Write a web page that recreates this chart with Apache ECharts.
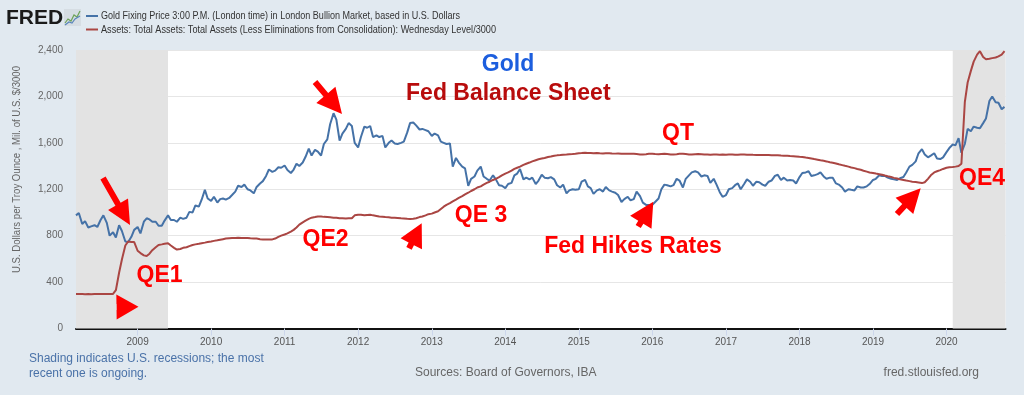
<!DOCTYPE html>
<html><head><meta charset="utf-8">
<script src="https://cdn.jsdelivr.net/npm/echarts@6/dist/echarts.min.js"></script>
<style>html,body{margin:0;padding:0;background:#e1e9f0;}#c{width:1024px;height:395px;}</style>
</head><body><div id="c"></div>
<script>
// ---------------- DATA ----------------
const seriesNames = [
  'Gold Fixing Price 3:00 P.M. (London time) in London Bullion Market, based in U.S. Dollars',
  'Assets: Total Assets: Total Assets (Less Eliminations from Consolidation): Wednesday Level/3000'
];
// semi-monthly observations (1st and 15th of each month) starting March 2008
const startYear = 2008, startMonth = 3;
const gold = [
  975,995,900,925,870,880,890,875,935,975,910,800,830,785,890,840,750,745,790,850,               // 2008 Mar-Dec
  875,820,920,950,940,920,920,885,885,930,975,935,935,920,955,945,955,1005,1000,1060,1050,1110,1195,1120, // 2009
  1100,1135,1085,1115,1120,1110,1125,1150,1180,1230,1220,1240,1200,1190,1165,1220,1250,1270,1315,1370,1350,1360,1390,1385, // 2010
  1405,1365,1340,1370,1420,1400,1430,1480,1550,1490,1540,1525,1490,1590,1630,1760,1855,1800,1620,1680,1720,1770,1745,1600, // 2011
  1560,1650,1740,1730,1745,1650,1665,1650,1660,1560,1600,1620,1595,1590,1600,1610,1690,1770,1775,1750,1715,1720,1710,1700, // 2012
  1660,1680,1665,1610,1600,1590,1595,1395,1470,1430,1395,1380,1230,1290,1310,1360,1395,1310,1290,1275,1320,1285,1235,1230, // 2013
  1210,1245,1255,1320,1335,1375,1285,1300,1285,1300,1245,1275,1325,1300,1295,1305,1285,1235,1215,1240,1165,1190,1200,1195, // 2014
  1200,1265,1280,1225,1210,1160,1190,1200,1180,1220,1190,1180,1170,1150,1090,1115,1135,1105,1115,1180,1140,1085,1065,1065, // 2015
  1065,1090,1120,1200,1240,1235,1225,1235,1290,1275,1215,1290,1320,1345,1355,1345,1310,1320,1315,1255,1290,1240,1175,1135, // 2016
  1150,1200,1210,1235,1250,1200,1245,1285,1265,1230,1265,1260,1240,1230,1265,1275,1315,1325,1280,1300,1275,1280,1275,1250, // 2017
  1305,1340,1345,1355,1315,1320,1330,1345,1310,1290,1300,1300,1250,1240,1215,1180,1200,1195,1190,1225,1215,1215,1225,1245, // 2018
  1280,1290,1320,1315,1315,1300,1290,1285,1280,1295,1305,1345,1395,1410,1440,1510,1545,1500,1475,1490,1510,1465,1460,1475, // 2019
  1520,1555,1585,1580,1640,1515,1590,1720,1700,1740,1730,1725,1770,1810,1960,2000,1950,1945,1890,1910                 // 2020 Jan-Oct
];
const fedAssets = [
  298,297,297,296,297,296,297,297,298,298,298,298,298,330,480,595,715,750,745,745,               // 2008 Mar-Dec
  670,650,630,625,645,675,700,720,725,730,735,715,695,680,685,695,700,710,720,725,730,735,740,745, // 2009
  750,755,760,765,770,775,778,780,780,782,780,780,780,778,776,775,770,768,768,767,768,775,790,800, // 2010
  810,820,835,850,870,895,915,930,945,955,960,965,965,962,960,958,955,955,950,950,948,950,950,975, // 2011
  980,980,975,978,980,975,970,965,963,960,958,955,955,953,950,948,945,943,945,950,960,965,975,985, // 2012
  990,1000,1010,1030,1050,1065,1080,1095,1110,1125,1140,1155,1170,1185,1200,1215,1225,1240,1255,1265,1280,1290,1305,1320, // 2013
  1335,1345,1360,1375,1385,1395,1410,1420,1430,1440,1450,1458,1465,1470,1478,1482,1488,1492,1495,1498,1500,1502,1503,1505, // 2014
  1510,1512,1515,1513,1512,1510,1512,1510,1508,1510,1510,1508,1507,1508,1506,1505,1505,1506,1505,1503,1500,1500,1502,1505, // 2015
  1505,1503,1502,1504,1505,1503,1500,1500,1502,1505,1505,1503,1500,1500,1502,1503,1502,1500,1500,1498,1500,1500,1498,1500, // 2016
  1498,1500,1500,1498,1498,1500,1500,1498,1498,1497,1496,1495,1496,1495,1495,1494,1494,1493,1490,1488,1488,1486,1485,1483, // 2017
  1480,1478,1473,1470,1465,1460,1455,1450,1445,1440,1433,1428,1422,1415,1408,1402,1395,1388,1382,1375,1368,1360,1352,1345, // 2018
  1340,1335,1330,1325,1318,1312,1305,1298,1292,1285,1280,1275,1270,1265,1262,1258,1253,1260,1290,1320,1345,1355,1365,1375, // 2019
  1385,1390,1392,1395,1400,1420,1950,2120,2220,2300,2360,2390,2340,2320,2325,2330,2335,2345,2360,2390                 // 2020 Jan-Oct
];
const recessions = [['2008-03-01','2009-06-01'], ['2020-02-01','2020-10-20']];
const xRange = ['2008-03-01', '2020-10-20'];
const yRange = [0, 2400], yStep = 400;
const annotations = [
  {text:'Gold', color:'#1c5ede'},
  {text:'Fed Balance Sheet', color:'#b80c0c'},
  {text:'QE1'}, {text:'QE2'}, {text:'QE 3'}, {text:'QT'}, {text:'Fed Hikes Rates'}, {text:'QE4'}
];
const noteText = ['Shading indicates U.S. recessions; the most', 'recent one is ongoing.'];
const sourceText = 'Sources: Board of Governors, IBA';
const siteText = 'fred.stlouisfed.org';
const yAxisTitle = 'U.S. Dollars per Troy Ounce , Mil. of U.S. $/3000';

// ---------------- BUILD ----------------
const dates = [];
for (let i = 0; i < gold.length; i++) {
  const m = startMonth - 1 + Math.floor(i / 2);
  const y = startYear + Math.floor(m / 12);
  const mm = (m % 12) + 1;
  const d = i % 2 === 0 ? 1 : 15;
  dates.push(y + '-' + String(mm).padStart(2, '0') + '-' + String(d).padStart(2, '0'));
}
const FONT = '"Liberation Sans", Arial, sans-serif';
const ctx = document.createElement('canvas').getContext('2d');
function fitScale(text, font, target) { ctx.font = font; return target / ctx.measureText(text).width; }

function arrow(tail, tip, headLen, headW, shaftW) {
  const dx = tip[0] - tail[0], dy = tip[1] - tail[1], L = Math.hypot(dx, dy);
  const ux = dx / L, uy = dy / L, px = -uy, py = ux;
  const bx = tip[0] - ux * headLen, by = tip[1] - uy * headLen;
  const s = shaftW / 2, h = headW / 2;
  return {type:'polygon', z:100, silent:true, shape:{points:[
    [tail[0] + px * s, tail[1] + py * s], [bx + px * s, by + py * s], [bx + px * h, by + py * h], tip,
    [bx - px * h, by - py * h], [bx - px * s, by - py * s], [tail[0] - px * s, tail[1] - py * s]
  ]}, style:{fill:'#ff0000'}};
}

const annPos = [[508,65],[508.3,93.5],[159.5,276],[325.5,240],[481,215.5],[678,133.3],[633,246.7],[982,178.7]];
const annGraphics = annotations.map((a, i) => ({
  type:'text', z:100, silent:true, x:annPos[i][0], y:annPos[i][1],
  style:{text:a.text, font:'bold 23px ' + FONT, fill:a.color || '#ff0000', align:'center', verticalAlign:'middle'}
}));

const legFont = '11px ' + FONT;
const yTitleFont = '10.5px ' + FONT;
const graphics = [
  // FRED logo
  {type:'text', x:6, y:18.5, style:{text:'FRED', font:'bold 21px ' + FONT, fill:'#1a1a1a', verticalAlign:'middle'}},
  {type:'rect', shape:{x:64, y:9, width:17, height:17}, style:{fill:'#d6dde3'}},
  {type:'polyline', shape:{points:[[65,23],[68,19],[71,21],[74,15],[77,17],[80,11]]}, style:{stroke:'#6da35a', lineWidth:1.2, fill:null}},
  {type:'polyline', shape:{points:[[65,25],[69,22],[72,23],[75,19],[80,16]]}, style:{stroke:'#5a86bb', lineWidth:1.2, fill:null}},
  // legend
  {type:'line', shape:{x1:86, y1:16, x2:98, y2:16}, style:{stroke:'#4572a7', lineWidth:2}},
  {type:'line', shape:{x1:86, y1:29.5, x2:98, y2:29.5}, style:{stroke:'#aa4643', lineWidth:2}},
  {type:'text', x:101, y:16, scaleX:fitScale(seriesNames[0], legFont, 359), style:{text:seriesNames[0], font:legFont, fill:'#333', verticalAlign:'middle'}},
  {type:'text', x:101, y:29.5, scaleX:fitScale(seriesNames[1], legFont, 395), style:{text:seriesNames[1], font:legFont, fill:'#333', verticalAlign:'middle'}},
  // y-axis title
  {type:'text', x:17.5, y:169.5, rotation:Math.PI / 2, scaleX:fitScale(yAxisTitle, yTitleFont, 207),
   style:{text:yAxisTitle, font:yTitleFont, fill:'#666', align:'center', verticalAlign:'middle'}},
  // footer
  {type:'text', x:29, y:358.3, style:{text:noteText[0], font:'12px ' + FONT, fill:'#4a72a8', verticalAlign:'middle'}},
  {type:'text', x:29, y:373.3, style:{text:noteText[1], font:'12px ' + FONT, fill:'#4a72a8', verticalAlign:'middle'}},
  {type:'text', x:415, y:372.7, style:{text:sourceText, font:'12px ' + FONT, fill:'#666', verticalAlign:'middle'}},
  {type:'text', x:979, y:372.7, style:{text:siteText, font:'12px ' + FONT, fill:'#666', align:'right', verticalAlign:'middle'}},
  // arrows
  arrow([103,178],[130,225],24,23,6),
  arrow([116.7,307],[138.5,306.7],22,25,6),
  arrow([315,82],[342,114],25,25,6),
  arrow([409,248.3],[421.7,223.3],23,24,6),
  arrow([638.2,226.5],[653.3,201.7],24,25,6),
  arrow([897,214],[920.7,188.3],24,24,6)
].concat(annGraphics);

const chart = echarts.init(document.getElementById('c'), null, {renderer:'canvas'});
chart.setOption({
  animation:false,
  backgroundColor:'#e1e9f0',
  textStyle:{fontFamily:FONT},
  grid:{left:76, right:18.5, top:50, bottom:66.5, show:true, backgroundColor:'#ffffff', borderWidth:0},
  xAxis:{
    type:'time', min:xRange[0], max:xRange[1],
    minInterval:365 * 86400000, maxInterval:366 * 86400000,
    axisLine:{lineStyle:{color:'#111', width:2}},
    axisTick:{show:true, length:7, lineStyle:{color:'#ccd6eb'}},
    axisLabel:{formatter:'{yyyy}', fontSize:10, color:'#555', margin:9, showMinLabel:false, showMaxLabel:false,
      rich:{}},
    splitLine:{show:false}
  },
  yAxis:{
    type:'value', min:yRange[0], max:yRange[1], interval:yStep,
    axisLine:{show:false}, axisTick:{show:false},
    axisLabel:{fontSize:10, color:'#666', margin:13, formatter:v => v.toLocaleString('en-US')},
    splitLine:{lineStyle:{color:'#e6e6e6', width:1}}
  },
  series:[
    {type:'line', name:'recessions', data:[], z:1, silent:true,
     markArea:{silent:true, itemStyle:{color:'#e3e3e3'}, data:recessions.map(r => [{xAxis:r[0]}, {xAxis:r[1]}])}},
    {type:'line', name:seriesNames[0], z:3, data:dates.map((d, i) => [d, gold[i]]), showSymbol:false,
     lineStyle:{color:'#4572a7', width:2}, itemStyle:{color:'#4572a7'}},
    {type:'line', name:seriesNames[1], z:3, data:dates.map((d, i) => [d, fedAssets[i]]), showSymbol:false,
     lineStyle:{color:'#aa4643', width:2}, itemStyle:{color:'#aa4643'}}
  ],
  graphic:graphics
});
</script></body></html>
